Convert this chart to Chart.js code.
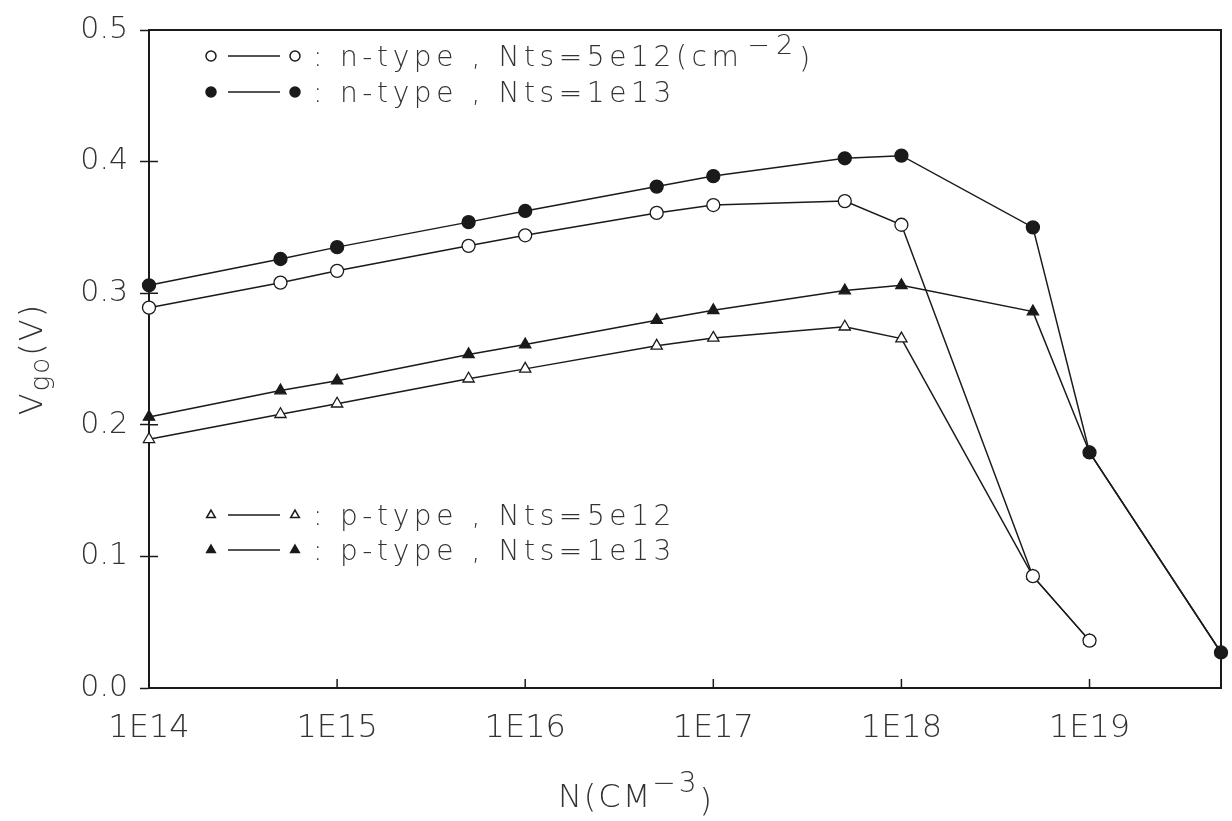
<!DOCTYPE html>
<html>
<head>
<meta charset="utf-8">
<script src="https://cdn.jsdelivr.net/npm/chart.js@4.4.1/dist/chart.umd.min.js"></script>
<style>
  html, body { margin: 0; padding: 0; background: #ffffff; }
  #wrap { position: relative; width: 1232px; height: 821px; }
</style>
</head>
<body>
<div id="wrap"><canvas id="c"></canvas></div>
<script>
// ---- data ----
const dopingN = [1e14, 5e14, 1e15, 5e15, 1e16, 5e16, 1e17, 5e17, 1e18, 5e18, 1e19, 5e19];
const nType5e12 = [0.289, 0.308, 0.317, 0.336, 0.344, 0.361, 0.367, 0.370, 0.352, 0.085, 0.036];
const nType1e13 = [0.306, 0.326, 0.335, 0.354, 0.3625, 0.381, 0.389, 0.4025, 0.4045, 0.350, 0.179, 0.027];
const pType5e12 = [0.189, 0.208, 0.216, 0.235, 0.2425, 0.260, 0.266, 0.2745, 0.2655, 0.085, 0.036];
const pType1e13 = [0.206, 0.226, 0.2335, 0.2535, 0.261, 0.2795, 0.287, 0.302, 0.306, 0.286, 0.179, 0.027];

const xTickValues = [1e14, 1e15, 1e16, 1e17, 1e18, 1e19];
const xTickLabels = ['1E14', '1E15', '1E16', '1E17', '1E18', '1E19'];
const yTickValues = [0.0, 0.1, 0.2, 0.3, 0.4, 0.5];

const seriesNames = ['n-type , Nts=5e12(cm', 'n-type , Nts=1e13', 'p-type , Nts=5e12', 'p-type , Nts=1e13'];
const seriesSup = ['\u22122', '', '', ''];
const seriesSupAfter = [')', '', '', ''];

const yTitleMain = 'V', yTitleSub = 'go', yTitleEnd = '(V)';
const xTitleMain = 'N(CM', xTitleSup = '\u22123', xTitleEnd = ')';

// ---- helpers ----
const FAM = "'DejaVu Sans', 'Liberation Sans', sans-serif";
const W = '200';
const INK = '#1a1a1a';
const TXT = '#333333';
function f(size) { return W + ' ' + size + 'px ' + FAM; }

function toPts(arr) { return arr.map((v, i) => ({ x: dopingN[i], y: v })); }

const styles = [
  { pointStyle: 'circle',   filled: false, r: 6.5 },
  { pointStyle: 'circle',   filled: true,  r: 6.5 },
  { pointStyle: 'triangle', filled: false, r: 6.5 },
  { pointStyle: 'triangle', filled: true,  r: 6.5 }
];
const seriesData = [nType5e12, nType1e13, pType5e12, pType1e13];

const datasets = seriesData.map((arr, i) => ({
  label: seriesNames[i] + seriesSup[i] + seriesSupAfter[i],
  data: toPts(arr),
  showLine: true,
  borderColor: INK,
  borderWidth: 1.5,
  tension: 0,
  pointStyle: styles[i].pointStyle,
  pointRadius: styles[i].r,
  pointHoverRadius: styles[i].r,
  pointBackgroundColor: styles[i].filled ? INK : '#ffffff',
  pointBorderColor: INK,
  pointBorderWidth: 1.3,
  clip: false
}));

// legend rows: [series index, marker-centre y]
const legendRows = [[0, 56], [1, 92], [2, 515], [3, 550]];

const decorPlugin = {
  id: 'decor',
  afterDraw(chart) {
    const ctx = chart.ctx;
    const a = chart.chartArea;
    const xs = chart.scales.x, ys = chart.scales.y;
    ctx.save();
    // frame top & right
    ctx.strokeStyle = INK;
    ctx.lineWidth = 2;
    ctx.beginPath();
    ctx.moveTo(a.left, a.top); ctx.lineTo(a.right, a.top); ctx.lineTo(a.right, a.bottom);
    ctx.stroke();
    // inward ticks
    ctx.lineWidth = 1.5;
    ctx.beginPath();
    xTickValues.forEach(v => {
      const px = xs.getPixelForValue(v);
      if (px > a.left + 2 && px < a.right - 2) { ctx.moveTo(px, a.bottom); ctx.lineTo(px, a.bottom - 9); }
    });
    yTickValues.forEach(v => {
      const py = ys.getPixelForValue(v);
      if (py > a.top + 2 && py < a.bottom - 2) { ctx.moveTo(a.left, py); ctx.lineTo(a.left + 9, py); }
    });
    ctx.stroke();

    // legend
    legendRows.forEach(([si, y]) => {
      const st = styles[si];
      ctx.strokeStyle = INK; ctx.fillStyle = st.filled ? INK : '#ffffff';
      const opt = { pointStyle: st.pointStyle, radius: 5, borderWidth: 1.2, rotation: 0 };
      Chart.helpers.drawPoint(ctx, opt, 211, y);
      Chart.helpers.drawPoint(ctx, opt, 295, y);
      ctx.lineWidth = 1.5;
      ctx.beginPath(); ctx.moveTo(228, y); ctx.lineTo(280, y); ctx.stroke();
      ctx.fillStyle = TXT;
      ctx.textBaseline = 'alphabetic';
      ctx.textAlign = 'left';
      ctx.letterSpacing = '4.6px';
      ctx.font = f(28);
      ctx.fillText(':', 313, y + 10);
      let x = 340;
      ctx.fillText(seriesNames[si], x, y + 10);
      x += ctx.measureText(seriesNames[si]).width;
      if (seriesSup[si]) {
        ctx.font = f(27);
        ctx.letterSpacing = '6px';
        ctx.fillText(seriesSup[si], x + 4, y - 2);
        x += ctx.measureText(seriesSup[si]).width + 4;
        ctx.letterSpacing = '4.6px';
        ctx.font = f(28);
        ctx.fillText(seriesSupAfter[si], x, y + 12);
      }
    });
    ctx.letterSpacing = '0px';

    // y title (rotated, with subscript)
    ctx.save();
    ctx.translate(34, (a.top + a.bottom) / 2);
    ctx.rotate(-Math.PI / 2);
    ctx.fillStyle = TXT;
    ctx.textBaseline = 'alphabetic';
    ctx.letterSpacing = '2px';
    ctx.font = f(32);
    const w1 = ctx.measureText(yTitleMain).width;
    const w3 = ctx.measureText(yTitleEnd).width;
    ctx.font = f(26);
    const w2 = ctx.measureText(yTitleSub).width;
    let tx = -(w1 + w2 + w3) / 2;
    ctx.font = f(32);
    ctx.fillText(yTitleMain, tx, 8); tx += w1;
    ctx.font = f(26);
    ctx.fillText(yTitleSub, tx, 15); tx += w2;
    ctx.font = f(32);
    ctx.fillText(yTitleEnd, tx, 8);
    ctx.restore();

    // x title with superscript
    ctx.fillStyle = TXT;
    ctx.textBaseline = 'alphabetic';
    ctx.letterSpacing = '2px';
    ctx.font = f(32);
    const m1 = ctx.measureText(xTitleMain).width;
    const m3 = ctx.measureText(xTitleEnd).width;
    ctx.font = f(28);
    ctx.letterSpacing = '3px';
    const m2 = ctx.measureText(xTitleSup).width;
    let bx = 636 - (m1 + m2 + m3) / 2;
    ctx.letterSpacing = '2px';
    ctx.font = f(32);
    ctx.fillText(xTitleMain, bx, 807); bx += m1;
    ctx.font = f(28);
    ctx.letterSpacing = '3px';
    ctx.fillText(xTitleSup, bx, 792); bx += m2;
    ctx.letterSpacing = '2px';
    ctx.font = f(32);
    ctx.fillText(xTitleEnd, bx, 811);
    ctx.letterSpacing = '0px';
    ctx.restore();
  }
};

new Chart(document.getElementById('c'), {
  type: 'scatter',
  data: { datasets },
  options: {
    responsive: true,
    maintainAspectRatio: false,
    animation: false,
    layout: { padding: { top: 27, right: 11, bottom: 0, left: 0 } },
    plugins: { legend: { display: false }, tooltip: { enabled: false }, title: { display: false } },
    scales: {
      x: {
        type: 'logarithmic',
        min: 1e14, max: 5e19,
        afterBuildTicks: (s) => { s.ticks = xTickValues.map(v => ({ value: v })); },
        afterFit: (s) => { s.height = 133; },
        ticks: {
          autoSkip: false, maxRotation: 0, padding: 21,
          color: TXT, font: { family: FAM, size: 32, weight: W },
          callback: (v) => { const i = xTickValues.indexOf(v); return i >= 0 ? xTickLabels[i] : ''; }
        },
        grid: { display: true, drawOnChartArea: false, drawTicks: false },
        border: { display: true, color: INK, width: 2 }
      },
      y: {
        type: 'linear',
        min: 0, max: 0.5,
        afterBuildTicks: (s) => { s.ticks = yTickValues.map(v => ({ value: v })); },
        afterFit: (s) => { s.width = 149; },
        ticks: {
          padding: 12, color: TXT, font: { family: FAM, size: 30, weight: W },
          callback: (v) => Number(v).toFixed(1)
        },
        grid: { display: true, drawOnChartArea: false, drawTicks: true, tickLength: 9, tickWidth: 1.5, tickColor: INK },
        border: { display: true, color: INK, width: 2 }
      }
    }
  },
  plugins: [decorPlugin]
});
</script>
</body>
</html>
